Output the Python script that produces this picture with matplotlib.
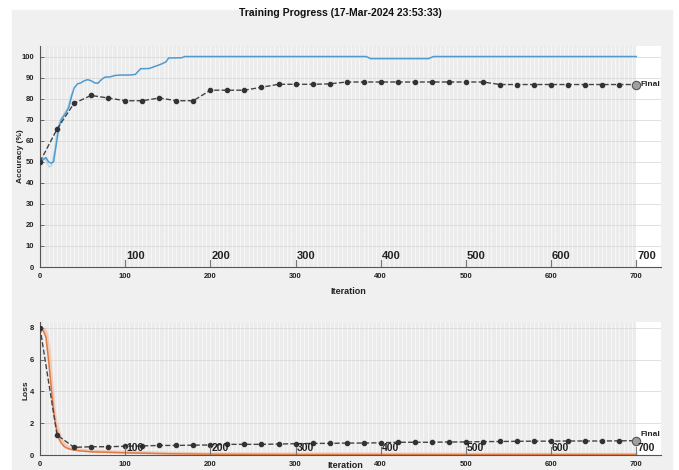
import matplotlib.pyplot as plt
from matplotlib.patches import Rectangle
from matplotlib.ticker import MultipleLocator

plt.rcParams['font.family'] = ['Liberation Sans', 'DejaVu Sans']

# training accuracy (smoothed)
acc_it = [0, 4, 7, 10, 13, 16, 19, 22, 25, 30, 34, 37, 40, 44, 48, 52, 56, 60, 64,
          68, 72, 76, 82, 88, 95, 105, 112, 118, 128, 135, 143, 148, 151, 166, 170,
          383, 388, 456, 462, 700]
acc_train = [50, 51, 52, 50, 49.3, 50, 58, 66, 70, 73, 76, 81, 85, 87, 87.5, 88.5, 89,
             88.5, 87.5, 87.3, 89, 90.2, 90.3, 91, 91.2, 91.2, 91.5, 94.2, 94.3, 95.3,
             96.5, 97.5, 99.3, 99.4, 100, 100, 99, 99, 100, 100]
# training accuracy (raw, early part)
acc_raw_it = [0, 5, 8, 11, 14, 17, 20, 23, 27, 32, 38]
acc_raw = [50, 52, 50, 47.5, 48.5, 55, 64, 69, 72, 75, 83]

# training loss
loss_it = [0, 4, 7, 10, 12, 14, 16, 18, 20, 22, 25, 28, 32, 38, 45, 60, 80, 100, 150,
           200, 300, 400, 700]
loss_train = [7.9, 7.8, 7.4, 6.0, 4.9, 3.8, 2.8, 2.0, 1.5, 1.05, 0.75, 0.55, 0.42, 0.33,
              0.27, 0.2, 0.17, 0.14, 0.08, 0.05, 0.03, 0.03, 0.03]
loss_raw_it = [0, 5, 8, 11, 14, 17, 20, 24, 28, 34, 40, 60, 100, 200, 700]
loss_raw = [8.0, 7.9, 7.6, 6.5, 4.5, 2.7, 1.8, 1.1, 0.7, 0.45, 0.35, 0.25, 0.17, 0.07, 0.04]

# validation, every 20 iterations
val_it = list(range(0, 701, 20))
acc_val = [50, 65.5, 77.8, 81.5, 80.3, 79, 79, 80.3, 79, 79, 84, 84, 84, 85.4, 86.8,
           86.8, 86.8, 87, 87.9, 87.9, 87.9, 87.9, 87.9, 87.9, 87.9, 87.9, 87.9,
           86.7, 86.7, 86.7, 86.7, 86.7, 86.7, 86.7, 86.7, 86.7]
loss_val = [8.0, 1.26, 0.48, 0.52, 0.52, 0.55, 0.57, 0.6, 0.6, 0.62, 0.63, 0.67, 0.67,
            0.67, 0.69, 0.71, 0.73, 0.73, 0.75, 0.75, 0.77, 0.8, 0.8, 0.8, 0.82, 0.82,
            0.84, 0.85, 0.86, 0.87, 0.87, 0.88, 0.88, 0.88, 0.89, 0.9]

epochs = [100, 200, 300, 400, 500, 600, 700]

W, H = 679, 470
fig = plt.figure(figsize=(W / 100, H / 100), dpi=100, facecolor='white')
fig.patches.append(Rectangle((12 / W, 0), (672 - 12) / W, 1 - 10 / H,
                             transform=fig.transFigure, color='#f0f0f0', zorder=-10))

ax1 = fig.add_axes([40 / W, 1 - 267 / H, 621 / W, 221 / H])
ax2 = fig.add_axes([40 / W, 1 - 455 / H, 621 / W, 133 / H])


def style(ax, ymax, ystep):
    ax.set_facecolor('white')
    ax.axvspan(0, 700, color='#ececec', zorder=0, lw=0)
    for x in range(0, 701, 5):
        ax.axvline(x, color='white', lw=0.5, alpha=0.8, zorder=0.5)
    y = ystep
    while y <= ymax:
        ax.axhline(y, color='#dadada', lw=0.6, zorder=0.6)
        y += ystep
    ax.set_xlim(0, 729)
    ax.set_ylim(0, ymax)
    ax.set_xticks(range(0, 701, 100))
    ax.yaxis.set_major_locator(MultipleLocator(ystep))
    for s in ['top', 'right']:
        ax.spines[s].set_visible(False)
    for s in ['left', 'bottom']:
        ax.spines[s].set_color('#555555')
        ax.spines[s].set_linewidth(0.8)
    ax.tick_params(direction='in', length=3, width=0.6, colors='#555555',
                   labelsize=5.5, labelcolor='#222222', pad=4)
    for lab in ax.get_xticklabels() + ax.get_yticklabels():
        lab.set_fontweight('bold')


style(ax1, 105, 10)
ax1.set_yticks(range(0, 101, 10))
style(ax2, 8.36, 2)
ax2.set_yticks(range(0, 9, 2))
for ax in (ax1, ax2):
    for lab in ax.get_xticklabels() + ax.get_yticklabels():
        lab.set_fontweight('bold')

# accuracy
ax1.plot(acc_raw_it, acc_raw, color='#9cc8e8', lw=1.2, alpha=0.6, zorder=2)
ax1.plot(acc_it, acc_train, color='#4f9bd0', lw=1.1, zorder=3)
ax1.plot(val_it, acc_val, '--', color='#444444', lw=1.0, marker='o', ms=3,
         mfc='#333333', mec='#333333', zorder=4)
ax1.plot(val_it[-1], acc_val[-1], 'o', ms=6, mfc='#a0a0a0', mec='#555555', mew=0.8,
         zorder=5)
ax1.text(val_it[-1] + 5, acc_val[-1], 'Final', fontsize=6, fontweight='bold',
         va='center', ha='left', color='#222222')

# loss
ax2.plot(loss_raw_it, loss_raw, color='#f2b899', lw=2.2, alpha=0.6, zorder=2)
ax2.plot(loss_it, loss_train, color='#e07a45', lw=1.1, zorder=3)
ax2.plot(val_it, loss_val, '--', color='#444444', lw=1.0, marker='o', ms=3,
         mfc='#333333', mec='#333333', zorder=4)
ax2.plot(val_it[-1], loss_val[-1], 'o', ms=6, mfc='#a0a0a0', mec='#555555', mew=0.8,
         zorder=5)
ax2.text(val_it[-1] + 5, loss_val[-1] + 0.15, 'Final', fontsize=6, fontweight='bold',
         va='bottom', ha='left', color='#222222')

# epoch markers
for e in epochs:
    ax1.plot([e, e], [0, 3.3], color='#777777', lw=0.8, zorder=6)
    ax1.text(e + 1, 3.0, str(e), fontsize=8, fontweight='bold', ha='left',
             va='bottom', color='#222222', zorder=7)
    ax2.plot([e, e], [0, 0.5], color='#777777', lw=0.8, zorder=6)
    ax2.text(e + 1, 0.45, str(e), fontsize=7.5, fontweight='bold', ha='left',
             va='center', color='#222222', zorder=7)

fig.text(340 / W, 1 - 13 / H, 'Training Progress (17-Mar-2024 23:53:33)', fontsize=7.5,
         fontweight='bold', ha='center', va='center', color='#111111')
fig.text(348 / W, 1 - 292 / H, 'Iteration', fontsize=6.5, fontweight='bold',
         ha='center', va='center', color='#222222')
fig.text(345 / W, 1 - 466 / H, 'Iteration', fontsize=6.5, fontweight='bold',
         ha='center', va='center', color='#222222')
fig.text(20 / W, 1 - 156 / H, 'Accuracy (%)', fontsize=6, fontweight='bold',
         rotation=90, ha='center', va='center', color='#222222')
fig.text(26 / W, 1 - 390 / H, 'Loss', fontsize=6, fontweight='bold',
         rotation=90, ha='center', va='center', color='#222222')

fig.savefig('out.png', dpi=100, facecolor=fig.get_facecolor())
